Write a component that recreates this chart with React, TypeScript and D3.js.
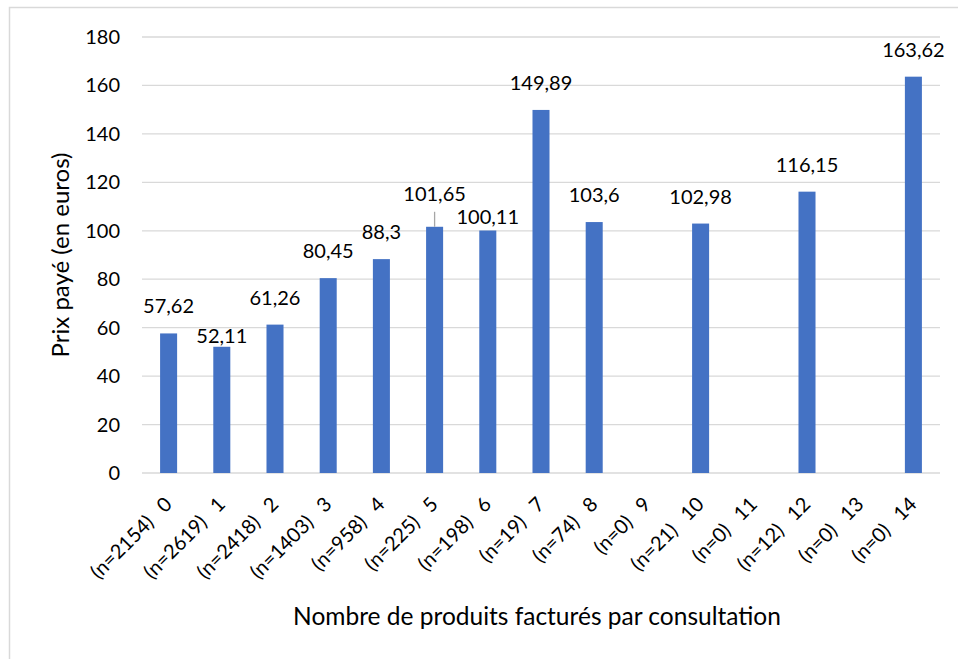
import * as d3 from "d3";
import React from "react";

// categories = number of products billed per consultation
const categories = ["0", "1", "2", "3", "4", "5", "6", "7", "8", "9", "10", "11", "12", "13", "14"];
const counts = [2154, 2619, 2418, 1403, 958, 225, 198, 19, 74, 0, 21, 0, 12, 0, 0];
const prices = [57.62, 52.11, 61.26, 80.45, 88.3, 101.65, 100.11, 149.89, 103.6, null, 102.98, null, 116.15, null, 163.62];
const yTicks = [0, 20, 40, 60, 80, 100, 120, 140, 160, 180];

// manual nudges of the value labels (px, + = down), as in the original
const labelNudge = [0, 16, 0, 0, 0, -6, 13, 0, 0, 0, 0, 0, 0, 0, 0];

const W = 958;
const H = 659;
const FONT = "Lato, 'Noto Sans', sans-serif";

export default function App() {
  const x = d3
    .scaleBand()
    .domain(categories)
    .range([142, 940])
    .paddingInner(0.68)
    .paddingOuter(0.34);
  const y = d3.scaleLinear().domain([0, 180]).range([473, 37]);
  const cx = (c) => x(c) + x.bandwidth() / 2;
  const fmt = (v) => String(v).replace(".", ",");

  return (
    <svg
      width={W}
      height={H}
      style={{ position: "absolute", left: 0, top: 0, background: "#fff" }}
      fontFamily={FONT}
    >
      <rect x={9.5} y={7.5} width={980} height={700} fill="#fff" stroke="#D9D9D9" strokeWidth={1.5} />

      {/* gridlines + y ticks */}
      {yTicks.map((t) => (
        <g key={t}>
          <line x1={142} x2={940} y1={y(t)} y2={y(t)} stroke="#D9D9D9" strokeWidth={1.3} />
          <text x={120} y={y(t)} dy="0.35em" textAnchor="end" fontSize={20} fill="#000">
            {t}
          </text>
        </g>
      ))}

      {/* bars */}
      {categories.map((c, i) =>
        prices[i] == null ? null : (
          <rect
            key={c}
            x={x(c)}
            y={y(prices[i])}
            width={x.bandwidth()}
            height={y(0) - y(prices[i])}
            fill="#4472C4"
          />
        )
      )}

      {/* value labels */}
      {categories.map((c, i) => {
        if (prices[i] == null) return null;
        const base = y(prices[i]) - 20 + labelNudge[i];
        return (
          <g key={c}>
            {labelNudge[i] < 0 && (
              <line
                x1={cx(c)}
                x2={cx(c)}
                y1={base + 11}
                y2={y(prices[i])}
                stroke="#A6A6A6"
                strokeWidth={1.3}
              />
            )}
            <text x={cx(c)} y={base} textAnchor="middle" fontSize={20} fill="#000">
              {fmt(prices[i])}
            </text>
          </g>
        );
      })}

      {/* x category labels */}
      {categories.map((c, i) => (
        <text
          key={c}
          transform={`translate(${cx(c) - 1},500) rotate(-45)`}
          textAnchor="end"
          dominantBaseline="central"
          fontSize={20}
          fill="#000"
        >
          {`(n=${counts[i]})`}
          <tspan dx={14}>{c}</tspan>
        </text>
      ))}

      {/* axis titles */}
      <text x={537} y={625} textAnchor="middle" fontSize={24.5} fill="#000">
        Nombre de produits facturés par consultation
      </text>
      <text
        transform={`translate(69,255) rotate(-90)`}
        textAnchor="middle"
        fontSize={24}
        fill="#000"
      >
        Prix payé (en euros)
      </text>
    </svg>
  );
}
